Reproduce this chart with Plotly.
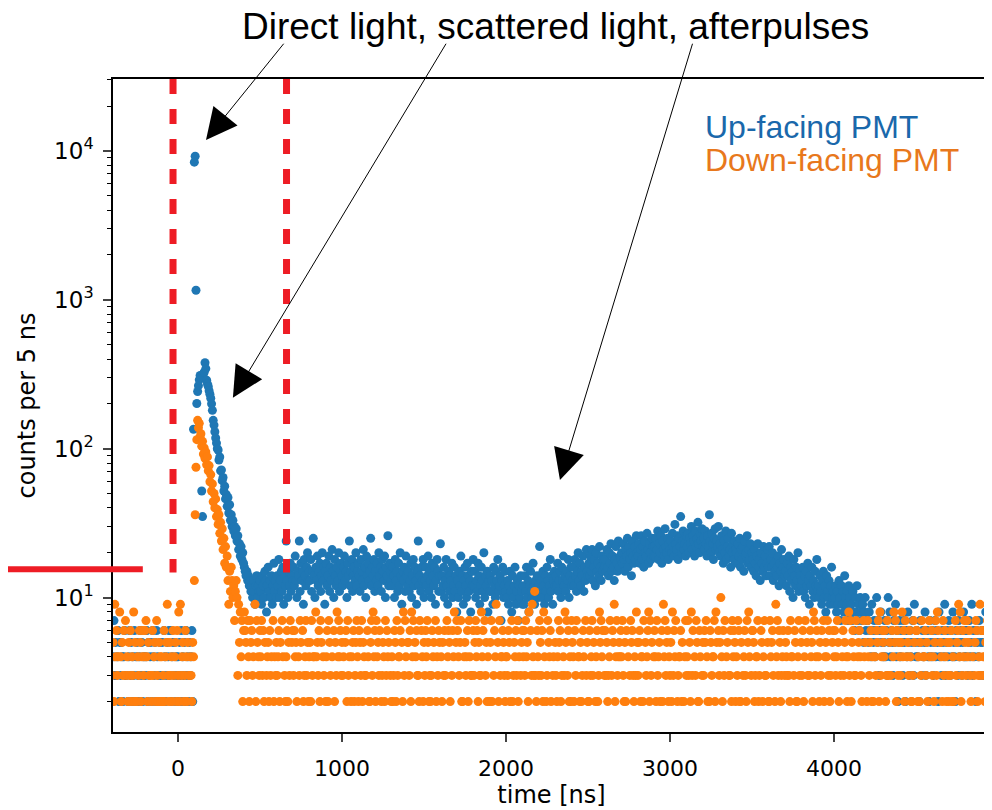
import plotly.graph_objects as go

# ---------------- data (counts per 5 ns bin) ----------------
BIN_NS = 5
T_START = -400  # first bin time [ns]

# Up-facing PMT
UP_PRE = (  # bins -400 .. 90 ns (hex digits)
    "2473534625" "3542463312" "4635243624" "5324635243" "3462534526"
    "4352643253" "2536423546" "3624535243" "4253624352" "634253462"
)
UP_PEAK = [  # bins 95 .. 500 ns
    135, 8400, 9200, 1160, 201, 242, 265, 290, 310, 300,
    52, 35, 318, 326, 378, 345, 288, 272, 262, 245,
    232, 218, 200, 181, 155, 144, 130, 118, 109, 100,
    98, 84, 88, 71, 72, 61, 64, 52, 56, 46,
    49, 41, 47, 37, 42, 33, 36, 30, 33, 28,
    30, 26, 29, 24, 26, 21, 23, 19, 22, 18,
    20, 17, 16, 15, 14, 15, 13, 14, 12, 13,
    11, 12, 10, 13, 11, 9, 12, 14, 10, 12,
    11, 13,
]
UP_POST = [  # bins 505 .. 4950 ns
    11, 9, 14, 12, 10, 15, 13, 8, 12, 16, 11, 13, 10, 14, 9, 12, 17, 11, 13, 10,
    14, 12, 18, 10, 13, 15, 11, 16, 9, 14, 12, 24, 13, 10, 15, 12, 17, 11, 14, 13,
    16, 12, 19, 13, 10, 15, 14, 24, 11, 17, 13, 15, 9, 18, 14, 12, 16, 20, 13, 15,
    13, 18, 11, 15, 25, 14, 10, 16, 13, 19, 12, 15, 17, 11, 14, 20, 13, 16, 9, 15,
    17, 12, 14, 19, 11, 16, 13, 21, 15, 10, 18, 14, 12, 16, 13, 20, 11, 15, 17, 14,
    12, 16, 19, 13, 15, 10, 17, 14, 24, 12, 15, 18, 11, 14, 16, 13, 20, 12, 15, 17,
    14, 11, 18, 15, 13, 21, 12, 16, 10, 19, 14, 17, 13, 15, 25, 12, 16, 14, 18, 11,
    15, 13, 17, 12, 20, 14, 16, 11, 18, 15, 13, 19, 10, 16, 14, 26, 12, 17, 15, 13,
    12, 16, 14, 10, 18, 13, 15, 11, 17, 12, 20, 14, 9, 15, 13, 16, 11, 19, 14, 12,
    15, 11, 13, 17, 10, 14, 18, 12, 16, 13, 9, 15, 24, 12, 14, 11, 16, 13, 18, 10,
    13, 16, 12, 14, 19, 11, 15, 13, 10, 17, 14, 12, 16, 9, 13, 18, 15, 11, 14, 23,
    11, 14, 12, 16, 10, 13, 18, 12, 9, 15, 11, 14, 13, 17, 10, 12, 16, 11, 14, 8,
    13, 10, 15, 12, 19, 11, 14, 9, 13, 16, 12, 10, 17, 14, 11, 13, 8, 15, 12, 18,
    12, 15, 10, 13, 11, 17, 14, 9, 12, 16, 13, 11, 20, 10, 14, 12, 15, 8, 13, 11,
    14, 11, 13, 9, 16, 12, 10, 15, 13, 18, 11, 12, 14, 7, 13, 16, 10, 12, 15, 11,
    10, 13, 9, 12, 15, 11, 8, 14, 10, 12, 16, 9, 11, 13, 7, 12, 10, 14, 11, 9,
    12, 9, 14, 11, 16, 10, 13, 8, 12, 15, 11, 10, 17, 12, 9, 13, 11, 14, 10, 12,
    22, 11, 13, 10, 15, 12, 9, 14, 11, 16, 13, 10, 12, 18, 11, 14, 9, 13, 15, 12,
    14, 12, 17, 11, 13, 15, 10, 16, 13, 19, 12, 14, 11, 15, 13, 18, 10, 14, 16, 12,
    13, 16, 12, 18, 14, 11, 15, 20, 13, 17, 12, 15, 14, 19, 11, 16, 13, 21, 15, 14,
    17, 14, 19, 15, 21, 13, 16, 18, 12, 20, 15, 17, 14, 22, 16, 13, 19, 15, 18, 16,
    18, 15, 21, 16, 14, 20, 17, 23, 15, 19, 16, 13, 18, 22, 17, 15, 24, 16, 19, 18,
    20, 17, 23, 18, 15, 21, 19, 25, 16, 22, 18, 20, 14, 24, 19, 17, 22, 18, 26, 20,
    19, 23, 17, 21, 26, 18, 22, 16, 24, 20, 19, 27, 21, 17, 23, 20, 18, 25, 22, 19,
    22, 19, 25, 21, 28, 18, 23, 20, 26, 17, 24, 21, 19, 29, 22, 20, 25, 18, 23, 21,
    24, 20, 27, 22, 19, 31, 23, 21, 26, 18, 25, 22, 35, 20, 24, 28, 21, 23, 19, 26,
    22, 27, 20, 25, 23, 30, 21, 26, 24, 19, 28, 22, 25, 32, 23, 20, 27, 24, 29, 22,
    25, 21, 28, 23, 19, 26, 22, 36, 24, 20, 27, 23, 18, 25, 29, 21, 24, 22, 30, 20,
    23, 19, 26, 21, 17, 24, 20, 28, 18, 22, 25, 19, 21, 16, 27, 20, 23, 18, 24, 21,
    20, 17, 23, 19, 25, 16, 21, 18, 22, 15, 24, 19, 20, 26, 17, 21, 18, 23, 16, 20,
    18, 15, 21, 17, 14, 19, 23, 16, 18, 13, 20, 17, 15, 22, 16, 19, 14, 17, 21, 16,
    22, 14, 18, 16, 20, 13, 17, 15, 24, 14, 16, 19, 12, 17, 15, 21, 13, 16, 18, 14,
    15, 12, 17, 14, 19, 11, 16, 13, 15, 10, 18, 14, 12, 16, 13, 20, 11, 15, 14, 12,
    13, 16, 11, 14, 10, 15, 12, 17, 13, 9, 14, 12, 16, 11, 13, 10, 15, 12, 18, 11,
    12, 10, 14, 11, 9, 13, 15, 10, 12, 8, 14, 11, 10, 13, 9, 12, 16, 10, 11, 9,
    10, 12, 8, 11, 9, 13, 10, 7, 12, 9, 11, 8, 14, 10, 9, 11, 7, 12, 10, 8,
    9, 7, 11, 8, 6, 10, 8, 12, 7, 9, 6, 10, 8, 7, 9, 5, 8, 10, 6, 7,
    7, 5, 8, 6, 4, 9, 6, 5, 7, 4, 6, 10, 5, 7, 3, 6, 8, 5, 6, 4,
    5, 7, 4, 6, 3, 10, 5, 8, 4, 6, 5, 3, 7, 5, 9, 4, 6, 2, 5, 7,
    4, 6, 5, 3, 7, 5, 2, 6, 4, 8, 5, 3, 6, 4, 5, 7, 3, 9, 5, 4,
    6, 4, 5, 2, 7, 5, 3, 6, 4, 5, 8, 3, 5, 6, 4, 2, 7, 5, 4, 6,
    3, 5, 7, 4, 6, 5, 2, 8, 4, 5, 3, 6, 5, 4, 9, 3, 5, 6, 4, 7,
    5, 3, 6, 4, 8, 5, 4, 2, 6, 5, 3, 7, 4, 5, 6, 3, 5, 8, 4, 6,
    4, 6, 3, 5, 7, 4, 5, 9, 3, 6, 4, 5, 2, 6, 5, 4, 7, 3, 5, 6,
    5, 3, 6, 4, 8, 5, 2, 6, 4, 5,
]

# Down-facing PMT
DOWN_PRE = (  # bins -400 .. 90 ns (hex digits)
    "3529463418" "4253617342" "5362438251" "2436524634" "6742531326"
    "3452732542" "4236245932" "5342634526" "3829345236" "425314325"
)
DOWN_PEAK = [  # bins 95 .. 400 ns
    4, 13, 36, 75, 115, 155, 138, 148, 120, 126,
    104, 112, 92, 101, 86, 95, 78, 88, 71, 77,
    60, 67, 52, 58, 44, 50, 40, 46, 35, 39,
    31, 36, 27, 32, 24, 29, 21, 25, 17, 22,
    16, 19, 13, 9, 15, 11, 16, 13, 10, 12,
    7, 11, 13, 10, 3, 9, 5, 8, 4, 7,
    2, 6,
]
DOWN_POST = (  # bins 405 .. 4950 ns (hex digits)
    "86537427563419275436" "47362513452634172435" "34625174132462537156"
    "36452143751623473524" "52734418453627514312" "46275314162538474635"
    "34156273412456235742" "65372543316422573846" "27453612354273645132"
    "42365273446152837415" "53628471546332716425" "36475232364517243651"
    "42536317465213648157" "64357221453462743316" "35746253384617352412"
    "57213649152734465324" "43652172354637241356" "46374528163943b32643"
    "75362841237546213415" "32475623143857362427" "54263714425236417352"
    "26347351246238574613" "63523471365924734546" "47325261413756324385"
    "35624427153468273514" "64273452162947356243" "52836471234462512473"
    "47352836143752264135" "36574212653447285163" "5a426371451336274652"
    "43762251346327584136" "65234472316524733152" "27456312947365234613"
    "54363274413652247315" "36247153136452873461" "42536172454736231564"
    "63475213146357424837" "25643371456432174512" "74356242143657283465"
    "46237315316485726354" "35846271453642237516" "62425371446352174163"
    "42573861154273642532" "53624217356948236475" "37456321413576234936"
    "6432527413"
)

SERIES = ["Up-facing PMT", "Down-facing PMT"]
COLORS = ["#1f77b4", "#ff7f0e"]
TEXT_COLORS = ["#1a68ab", "#e8781c"]

X_TICKS = [0, 1000, 2000, 3000, 4000]
Y_TICKS = [10, 100, 1000, 10000]
Y_TICKTEXT = ["10<sup>1</sup>", "10<sup>2</sup>", "10<sup>3</sup>", "10<sup>4</sup>"]

WINDOW_NS = [-30, 662]   # red dashed time window
THRESHOLD = 15.5         # red level marker


def assemble(pre, peak, post):
    vals = [int(c, 16) for c in pre] + list(peak)
    vals += [int(c, 16) for c in post] if isinstance(post, str) else list(post)
    t = [T_START + BIN_NS * i for i in range(len(vals))]
    pts = [(a, b) for a, b in zip(t, vals) if b > 0]
    return [p[0] for p in pts], [p[1] for p in pts]


up_t, up_v = assemble(UP_PRE, UP_PEAK, UP_POST)
dn_t, dn_v = assemble(DOWN_PRE, DOWN_PEAK, DOWN_POST)

fig = go.Figure()
fig.add_trace(go.Scatter(x=up_t, y=up_v, mode="markers", name=SERIES[0],
                         marker=dict(size=9, color=COLORS[0], line=dict(width=0))))
fig.add_trace(go.Scatter(x=dn_t, y=dn_v, mode="markers", name=SERIES[1],
                         marker=dict(size=9, color=COLORS[1], line=dict(width=0))))

Y_TOP_LOG = 4.483
Y_BOT_LOG = 0.097

shapes = []
for xv in WINDOW_NS:
    shapes.append(dict(type="line", xref="x", yref="y", x0=xv, x1=xv,
                       y0=10 ** Y_TOP_LOG, y1=THRESHOLD * 0.95,
                       line=dict(color="#ee1c25", width=7, dash="15px,15px"),
                       layer="above"))
shapes.append(dict(type="line", xref="paper", yref="y", x0=-0.14, x1=0.034,
                   y0=THRESHOLD, y1=THRESHOLD,
                   line=dict(color="#ee1c25", width=6), layer="above"))

# annotation arrows (tip in data coords; y in log10 for log axis)
ARROWS = [  # (tip_x, tip_logy, tail_x, tail_logy)
    (171, 4.074, 652, 4.73),
    (335, 2.342, 1640, 4.73),
    (2329, 1.789, 3140, 4.73),
]
annotations = []
for tx, ty, sx, sy in ARROWS:
    annotations.append(dict(x=tx, y=ty, xref="x", yref="y", ax=sx, ay=sy,
                            axref="x", ayref="y", text="", showarrow=True,
                            arrowhead=2, arrowsize=6.2, arrowwidth=1,
                            arrowcolor="black", standoff=0))
annotations.append(dict(x=0.505, y=1.113, xref="paper", yref="paper",
                        text="Direct light, scattered light, afterpulses",
                        showarrow=False, xanchor="center", yanchor="top",
                        borderpad=0,
                        font=dict(family="Liberation Sans, Arial, sans-serif",
                                  size=37, color="black")))
for i, (name, yy) in enumerate(zip(SERIES, [0.9265, 0.876])):
    annotations.append(dict(x=0.673, y=yy, xref="paper", yref="paper", text=name,
                            showarrow=False, xanchor="left", yanchor="middle",
                            font=dict(family="Liberation Sans, Arial, sans-serif",
                                      size=32, color=TEXT_COLORS[i])))

MINOR_Y = [m * 10 ** k for k in range(0, 5) for m in range(2, 10)]

# the page body adds an 8 px offset, so margins are shifted by 8 px
fig.update_layout(
    width=992, height=810,
    margin=dict(l=105, r=10, t=71, b=86, autoexpand=False),
    paper_bgcolor="white", plot_bgcolor="white",
    showlegend=False,
    font=dict(family="DejaVu Sans", size=22, color="black"),
    shapes=shapes, annotations=annotations,
    xaxis=dict(range=[-396, 4951], tickvals=X_TICKS, ticks="outside", ticklen=8,
               tickwidth=1.5, showline=True, linecolor="black", linewidth=1.5,
               mirror=True, showgrid=False, zeroline=False, automargin=False,
               ticklabelstandoff=8,
               title=dict(text="time [ns]", font=dict(size=24), standoff=6),
               tickfont=dict(size=22)),
    yaxis=dict(type="log", range=[Y_BOT_LOG, Y_TOP_LOG], tickvals=Y_TICKS,
               ticktext=Y_TICKTEXT, ticks="outside", ticklen=8, tickwidth=1.5,
               showline=True, linecolor="black", linewidth=1.5, mirror=True,
               showgrid=False, zeroline=False, automargin=False,
               ticklabelstandoff=5,
               minor=dict(tickvals=MINOR_Y, ticks="outside", ticklen=4,
                          tickwidth=1, tickcolor="black", showgrid=False),
               title=dict(text="counts per 5 ns", font=dict(size=24), standoff=12),
               tickfont=dict(size=23)),
)

fig.write_html("out.html")
